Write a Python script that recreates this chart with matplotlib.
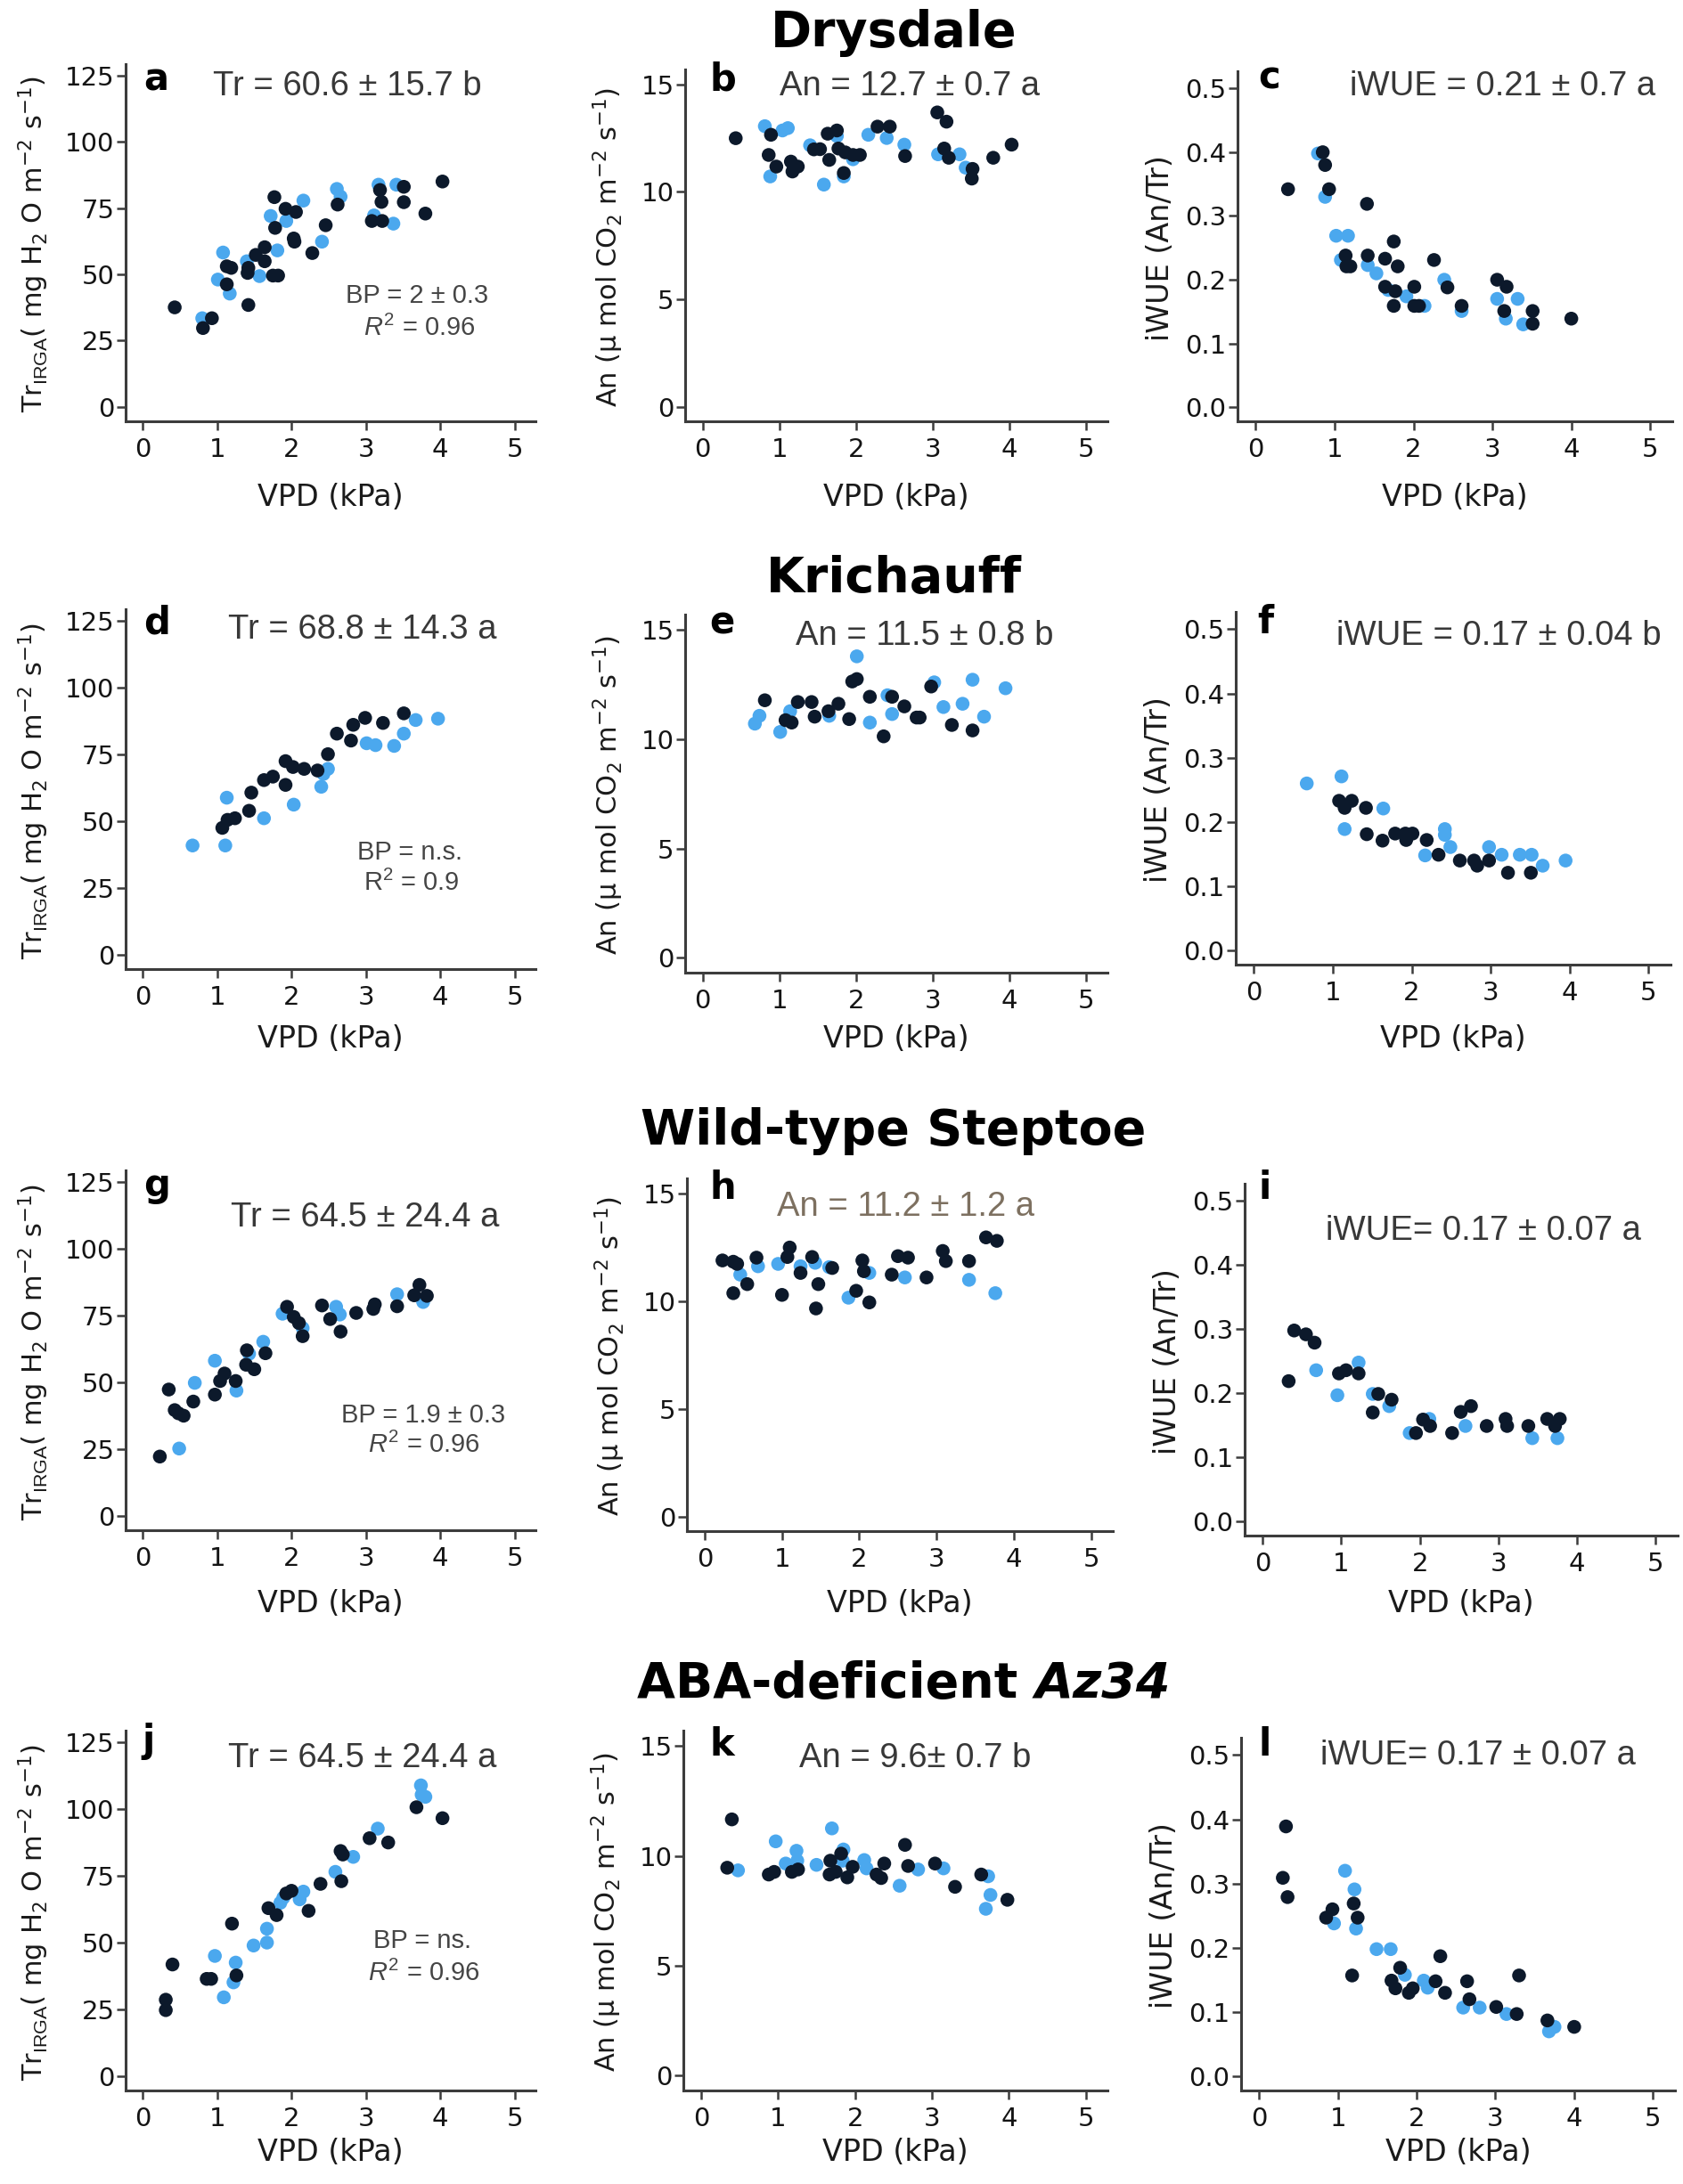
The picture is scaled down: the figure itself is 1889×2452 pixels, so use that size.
import matplotlib.pyplot as plt

plt.rcParams['font.family'] = 'DejaVu Sans'
plt.rcParams['mathtext.fontset'] = 'custom'
plt.rcParams['mathtext.rm'] = 'Liberation Sans'
plt.rcParams['mathtext.it'] = 'Liberation Sans:italic'
plt.rcParams['mathtext.default'] = 'regular'

W, H = 1890, 2452
DARK = '#0c192b'
LIGHT = '#4ba8ee'

# Drysdale
a_dark_vpd = [0.43,0.81,0.93,1.13,1.19,1.13,1.41,1.42,1.42,1.52,1.64,1.64,1.75,1.82,1.78,1.77,1.92,2.06,2.03,2.04,2.28,2.46,2.62,3.08,3.22,3.19,3.21,3.51,3.51,3.80,4.03]
a_dark_tr = [37.5,29.7,33.4,53.0,52.4,46.2,50.5,52.4,38.4,57.3,60.2,54.9,49.5,49.5,67.5,79.1,74.7,73.5,63.5,62.3,58.0,68.5,76.3,70.1,70.1,81.8,77.3,83.0,77.2,72.9,85.0]
a_light_vpd = [0.80,1.01,1.08,1.17,1.40,1.57,1.72,1.81,1.93,2.16,2.41,2.61,2.66,3.11,3.17,3.37,3.41]
a_light_tr = [33.4,48.0,58.2,42.7,54.9,49.3,72.0,59.0,70.1,77.8,62.3,82.2,79.3,72.2,83.8,69.1,83.8]

b_dark_vpd = [0.43,0.89,0.86,0.96,1.15,1.17,1.24,1.45,1.53,1.63,1.75,1.65,1.77,1.86,1.96,2.05,1.84,2.28,2.44,2.64,3.06,3.18,3.15,3.21,3.52,3.51,3.79,4.03]
b_dark_an = [12.50,12.66,11.72,11.18,11.41,10.95,11.18,11.98,11.99,12.71,12.86,11.49,12.02,11.84,11.72,11.72,10.88,13.04,13.04,11.67,13.70,13.27,12.02,11.59,11.07,10.62,11.59,12.20]
b_light_vpd = [0.81,0.88,1.04,1.11,1.40,1.58,1.75,1.84,1.96,2.16,2.40,2.63,3.07,3.35,3.43]
b_light_an = [13.06,10.72,12.86,12.97,12.17,10.34,12.60,10.72,11.52,12.66,12.51,12.20,11.75,11.75,11.13]

c_dark_vpd = [0.41,0.85,0.88,0.93,1.41,1.14,1.15,1.20,1.42,1.64,1.75,1.80,1.64,1.77,1.75,2.01,2.01,2.07,2.26,2.43,2.61,3.06,3.18,3.15,3.51,3.51,4.00]
c_dark_wue = [0.342,0.400,0.380,0.342,0.319,0.238,0.221,0.221,0.238,0.233,0.260,0.221,0.189,0.182,0.159,0.189,0.159,0.159,0.231,0.188,0.159,0.200,0.189,0.151,0.151,0.131,0.139]
c_light_vpd = [0.79,0.88,1.02,1.17,1.08,1.42,1.53,1.68,1.91,2.14,2.39,2.61,3.06,3.17,3.32,3.39]
c_light_wue = [0.398,0.330,0.269,0.269,0.231,0.223,0.210,0.184,0.174,0.159,0.200,0.151,0.170,0.139,0.170,0.130]

# Krichauff
d_dark_vpd = [1.07,1.14,1.24,1.43,1.46,1.63,1.75,1.92,1.92,2.02,2.17,2.35,2.49,2.61,2.80,2.83,2.99,3.23,3.51]
d_dark_tr = [47.4,50.4,51.0,53.8,60.6,65.3,66.6,63.5,72.4,70.2,69.5,68.9,75.0,82.7,80.1,86.0,88.6,86.7,90.3]
d_light_vpd = [0.67,1.11,1.13,1.63,2.03,2.40,2.43,2.49,3.01,3.13,3.38,3.51,3.67,3.97]
d_light_tr = [40.8,40.8,58.7,51.0,56.1,62.8,67.6,69.5,79.1,78.4,78.1,82.7,87.8,88.3]

e_dark_vpd = [0.81,1.08,1.16,1.24,1.42,1.46,1.64,1.77,1.91,1.95,2.01,2.18,2.36,2.47,2.63,2.79,2.83,2.98,3.25,3.52]
e_dark_an = [11.78,10.87,10.76,11.70,11.70,11.03,11.28,11.62,10.92,12.64,12.75,11.94,10.13,11.94,11.50,10.99,10.99,12.41,10.65,10.40]
e_light_vpd = [0.68,0.74,1.01,1.14,1.65,2.01,2.18,2.41,2.47,3.02,3.14,3.39,3.52,3.67,3.95]
e_light_an = [10.71,11.07,10.33,11.28,11.07,13.79,10.76,12.01,11.15,12.60,11.47,11.62,12.72,11.03,12.33]

f_dark_vpd = [1.08,1.15,1.24,1.42,1.43,1.63,1.79,1.92,1.93,2.01,2.19,2.34,2.61,2.79,2.83,2.98,3.22,3.51]
f_dark_wue = [0.233,0.222,0.233,0.222,0.181,0.171,0.182,0.182,0.172,0.182,0.172,0.149,0.140,0.140,0.132,0.140,0.121,0.121]
f_light_vpd = [0.67,1.11,1.15,1.64,2.17,2.42,2.42,2.49,2.98,3.14,3.37,3.52,3.66,3.95]
f_light_wue = [0.260,0.271,0.189,0.221,0.148,0.189,0.180,0.161,0.161,0.149,0.149,0.149,0.132,0.140]

# Wild-type Steptoe
g_dark_vpd = [0.23,0.35,0.43,0.48,0.55,0.68,0.97,1.04,1.10,1.25,1.40,1.39,1.50,1.65,1.94,2.03,2.10,2.15,2.41,2.52,2.66,2.87,3.10,3.12,3.42,3.65,3.72,3.82]
g_dark_tr = [22.1,47.2,39.5,38.3,37.4,42.7,45.3,50.4,53.2,50.4,61.9,56.5,54.8,60.8,78.2,74.4,72.1,67.2,78.7,73.6,68.9,75.9,77.4,79.1,78.4,82.5,86.4,82.3]
g_light_vpd = [0.49,0.70,0.97,1.26,1.43,1.62,1.88,2.15,2.60,2.65,3.42,3.77]
g_light_tr = [25.1,49.7,58.0,46.8,60.6,65.1,75.6,70.2,78.2,75.3,82.9,80.0]

h_dark_vpd = [0.23,0.37,0.42,0.37,0.55,0.67,1.00,1.07,1.10,1.24,1.39,1.44,1.47,1.65,1.96,2.04,2.06,2.13,2.42,2.50,2.63,2.87,3.08,3.12,3.42,3.64,3.78]
h_dark_an = [11.89,11.83,11.73,10.37,10.79,12.02,10.29,12.05,12.49,11.31,12.05,9.66,10.79,11.54,10.48,11.89,11.39,9.94,11.23,12.09,12.02,11.10,12.33,11.86,11.86,12.96,12.80]
h_light_vpd = [0.46,0.69,0.95,1.24,1.43,1.61,1.86,2.13,2.59,3.42,3.76]
h_light_an = [11.23,11.62,11.73,11.62,11.78,11.58,10.16,11.31,11.10,10.99,10.37]

i_dark_vpd = [0.33,0.40,0.55,0.66,0.97,1.06,1.22,1.47,1.64,1.40,1.95,2.04,2.13,2.41,2.52,2.65,2.85,3.09,3.11,3.38,3.62,3.72,3.78]
i_dark_wue = [0.219,0.298,0.292,0.279,0.231,0.236,0.231,0.199,0.190,0.170,0.138,0.159,0.149,0.138,0.171,0.180,0.149,0.160,0.149,0.149,0.160,0.149,0.160]
i_light_vpd = [0.68,0.95,1.22,1.40,1.61,1.87,2.12,2.58,3.43,3.75]
i_light_wue = [0.236,0.197,0.248,0.199,0.180,0.138,0.160,0.149,0.130,0.130]

# ABA-deficient Az34
j_dark_vpd = [0.31,0.31,0.40,0.86,0.92,1.20,1.26,1.69,1.80,1.93,2.00,2.23,2.39,2.66,2.69,2.67,3.05,3.30,3.68,4.03]
j_dark_tr = [28.5,24.6,41.7,36.3,36.3,57.0,37.6,62.8,60.2,68.3,69.3,61.8,71.9,84.2,82.9,72.9,89.0,87.4,100.6,96.5]
j_light_vpd = [0.97,1.09,1.22,1.25,1.49,1.67,1.67,1.85,1.89,2.11,2.16,2.59,2.83,3.16,3.74,3.75,3.80]
j_light_tr = [44.9,29.4,35.0,42.4,48.8,55.1,49.9,64.8,66.7,66.1,69.0,76.4,82.0,92.6,108.8,105.3,104.5]

k_dark_vpd = [0.34,0.40,0.88,0.95,1.18,1.26,1.67,1.68,1.75,1.82,1.90,1.97,2.28,2.34,2.38,2.65,2.69,3.04,3.30,3.64,3.98]
k_dark_an = [9.46,11.66,9.15,9.27,9.27,9.38,9.15,9.78,9.27,10.10,9.02,9.50,9.15,8.99,9.65,10.50,9.54,9.65,8.59,9.15,8.00]
k_light_vpd = [0.48,0.97,1.10,1.24,1.25,1.50,1.70,1.85,1.84,2.12,2.15,2.58,2.82,3.15,3.73,3.76,3.70]
k_light_an = [9.34,10.66,9.65,10.23,9.78,9.59,11.25,10.29,9.78,9.81,9.43,8.64,9.38,9.43,9.07,8.22,7.59]

l_dark_vpd = [0.34,0.30,0.36,0.85,0.93,1.20,1.25,1.18,1.68,1.79,1.73,1.90,1.95,2.24,2.30,2.36,2.64,2.67,3.01,3.27,3.30,3.66,4.00]
l_dark_wue = [0.389,0.309,0.279,0.247,0.260,0.269,0.247,0.157,0.149,0.169,0.137,0.130,0.137,0.148,0.187,0.130,0.148,0.120,0.108,0.097,0.157,0.087,0.077]
l_light_vpd = [0.95,1.09,1.21,1.23,1.49,1.67,1.85,2.09,2.14,2.59,2.80,3.14,3.68,3.75]
l_light_wue = [0.238,0.320,0.291,0.230,0.198,0.198,0.158,0.149,0.138,0.107,0.107,0.097,0.070,0.077]

titles = ['Drysdale', 'Krichauff', 'Wild-type Steptoe']
stats = ['Tr = 60.6 ± 15.7 b', 'An = 12.7 ± 0.7 a', 'iWUE = 0.21 ± 0.7 a',
         'Tr = 68.8 ± 14.3 a', 'An = 11.5 ± 0.8 b', 'iWUE = 0.17 ± 0.04 b',
         'Tr = 64.5 ± 24.4 a', 'An = 11.2 ± 1.2 a', 'iWUE= 0.17 ± 0.07 a',
         'Tr = 64.5 ± 24.4 a', 'An = 9.6± 0.7 b', 'iWUE= 0.17 ± 0.07 a']
bp_text = [('BP = 2 ± 0.3', r'$\mathit{R}^2$ = 0.96'),
           ('BP = n.s.', 'R$^2$ = 0.9'),
           ('BP = 1.9 ± 0.3', r'$\mathit{R}^2$ = 0.96'),
           ('BP = ns.', r'$\mathit{R}^2$ = 0.96')]

panels = [('a', a_dark_vpd, a_dark_tr, a_light_vpd, a_light_tr, 'tr'),
          ('b', b_dark_vpd, b_dark_an, b_light_vpd, b_light_an, 'an'),
          ('c', c_dark_vpd, c_dark_wue, c_light_vpd, c_light_wue, 'wue'),
          ('d', d_dark_vpd, d_dark_tr, d_light_vpd, d_light_tr, 'tr'),
          ('e', e_dark_vpd, e_dark_an, e_light_vpd, e_light_an, 'an'),
          ('f', f_dark_vpd, f_dark_wue, f_light_vpd, f_light_wue, 'wue'),
          ('g', g_dark_vpd, g_dark_tr, g_light_vpd, g_light_tr, 'tr'),
          ('h', h_dark_vpd, h_dark_an, h_light_vpd, h_light_an, 'an'),
          ('i', i_dark_vpd, i_dark_wue, i_light_vpd, i_light_wue, 'wue'),
          ('j', j_dark_vpd, j_dark_tr, j_light_vpd, j_light_tr, 'tr'),
          ('k', k_dark_vpd, k_dark_an, k_light_vpd, k_light_an, 'an'),
          ('l', l_dark_vpd, l_dark_wue, l_light_vpd, l_light_wue, 'wue')]

# layout in pixels: left, top, right, bottom of each axes
rects = [(141, 72, 601, 473), (769, 78, 1243, 473), (1389, 80, 1877, 473),
         (141, 684, 601, 1088), (769, 690, 1243, 1092), (1387, 687, 1875, 1083),
         (141, 1314, 601, 1718), (771, 1323, 1249, 1719), (1397, 1329, 1883, 1724),
         (141, 1943, 601, 2347), (767, 1943, 1243, 2347), (1393, 1951, 1880, 2347)]
letter_pos = [(161, 101), (797, 102), (1412, 100), (161, 711), (796, 711), (1411, 711),
              (161, 1343), (797, 1346), (1412, 1346), (159, 1967), (797, 1971), (1413, 1971)]
stat_pos = [(390, 107), (1021, 107), (1687, 107), (407, 717), (1038, 724), (1682, 724),
            (410, 1377), (1017, 1365), (1665, 1392), (407, 1984), (1027, 1984), (1659, 1981)]
bp_pos = [((468, 340), (471, 377)), ((460, 965), (462, 1000)),
          ((475, 1597), (476, 1631)), ((474, 2187), (476, 2224))]
title_y = [52, 665, 1285, 1906]
xlabel_y = [558, 1166, 1800, 2416]

ylabels = {'tr': r'Tr$_{\mathrm{IRGA}}$( mg H$_2$ O m$^{-2}$ s$^{-1}$)',
           'an': r'An ($\mu$ mol CO$_2$ m$^{-2}$ s$^{-1}$)',
           'wue': 'iWUE (An/Tr)'}
ylims = {'tr': (-5.5, 129.3), 'an': (-0.68, 15.7), 'wue': (-0.022, 0.527)}
yticks = {'tr': [0, 25, 50, 75, 100, 125], 'an': [0, 5, 10, 15],
          'wue': [0.0, 0.1, 0.2, 0.3, 0.4, 0.5]}


def fx(x):
    return x / W


def fy(y):
    return 1 - y / H


fig = plt.figure(figsize=(W / 100, H / 100), dpi=100)

for n, (letter, dx, dy, lx, ly, kind) in enumerate(panels):
    left, top, right, bottom = rects[n]
    ax = fig.add_axes([fx(left), fy(bottom), (right - left) / W, (bottom - top) / H])
    ax.scatter(lx, ly, s=125, color=LIGHT, edgecolors='none', zorder=3, clip_on=False)
    ax.scatter(dx, dy, s=125, color=DARK, edgecolors='none', zorder=4, clip_on=False)
    ax.set_xlim(-0.23, 5.28)
    ax.set_ylim(*ylims[kind])
    ax.set_xticks(range(6))
    ax.set_yticks(yticks[kind])
    if kind == 'wue':
        ax.set_yticklabels(['%.1f' % t for t in yticks[kind]])
    for s in ['top', 'right']:
        ax.spines[s].set_visible(False)
    for s in ['left', 'bottom']:
        ax.spines[s].set_linewidth(2.2)
        ax.spines[s].set_color('#3c3c3c')
    ax.tick_params(direction='out', length=7, width=1.8, color='#3c3c3c',
                   labelsize=21, labelcolor='#141414')
    ax.tick_params(axis='y', pad=2)
    ax.tick_params(axis='x', pad=6)

    # axis labels
    fig.text(fx((left + right) / 2), fy(xlabel_y[n // 3]), 'VPD (kPa)', fontsize=24,
             ha='center', va='center', color='#1a1a1a')
    ylab_x = left - 103 if kind == 'tr' else left - 86
    fig.text(fx(ylab_x), fy((top + bottom) / 2 + 2), ylabels[kind], rotation=90,
             fontsize=24 if kind == 'wue' else 22, ha='center', va='center', color='#1a1a1a')

    # panel letter and stats
    fig.text(fx(letter_pos[n][0]), fy(letter_pos[n][1]), letter, fontsize=30,
             fontweight='bold', ha='left', va='baseline')
    col = '#7d7060' if letter == 'h' else '#383838'
    fig.text(fx(stat_pos[n][0]), fy(stat_pos[n][1]), stats[n], fontsize=27.5,
             family='Liberation Sans', ha='center', va='baseline', color=col)

    if kind == 'tr':
        r = n // 3
        (x1, y1), (x2, y2) = bp_pos[r]
        fig.text(fx(x1), fy(y1), bp_text[r][0], fontsize=21, family='Liberation Sans',
                 ha='center', va='baseline', color='#454545')
        fig.text(fx(x2), fy(y2), bp_text[r][1], fontsize=21, family='Liberation Sans',
                 ha='center', va='baseline', color='#454545')

# row titles
for r in range(3):
    fig.text(fx(1003), fy(title_y[r]), titles[r], fontsize=40, fontweight='bold',
             ha='center', va='baseline')

# last title has italic part
renderer = fig.canvas.get_renderer()
t1 = fig.text(0, fy(title_y[3]), 'ABA-deficient ', fontsize=40, fontweight='bold',
              ha='left', va='baseline')
t2 = fig.text(0, fy(title_y[3]), 'Az34', fontsize=40, fontweight='bold', style='italic',
              ha='left', va='baseline')
w1 = t1.get_window_extent(renderer).width
w2 = t2.get_window_extent(renderer).width
x0 = 1015 - (w1 + w2) / 2
t1.set_x(fx(x0))
t2.set_x(fx(x0 + w1))

fig.savefig('out.png', dpi=100)
